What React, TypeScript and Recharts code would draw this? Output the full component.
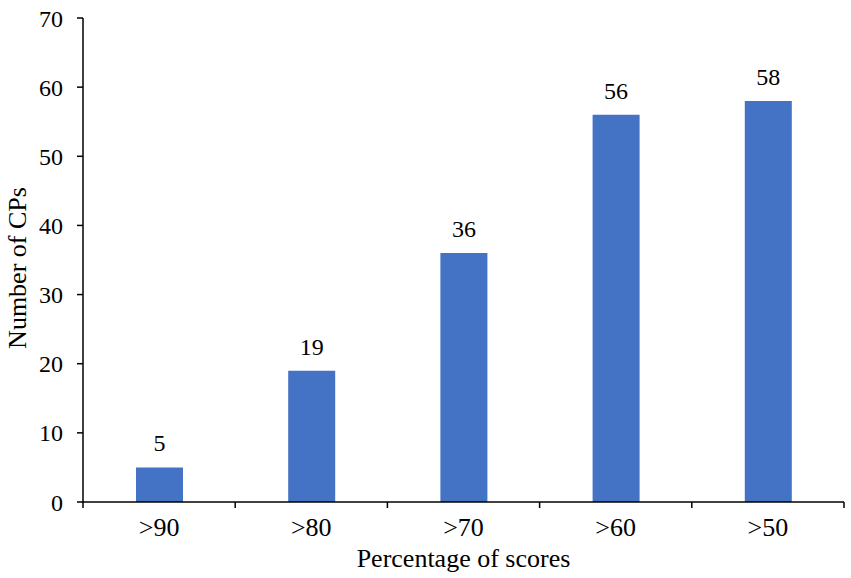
import { BarChart, Bar, XAxis, YAxis, LabelList } from "recharts";

const categories = [">90", ">80", ">70", ">60", ">50"];
const counts = [5, 19, 36, 56, 58];
const yTicks = [0, 10, 20, 30, 40, 50, 60, 70];

const data = categories.map((c, i) => ({ cat: c, count: counts[i] }));

const font = "'Liberation Serif', 'Times New Roman', serif";
const txt = { fontFamily: font, fontSize: 24, fill: "#000" };
const axisTitle = { fontFamily: font, fontSize: 26, fill: "#000" };
const line = { stroke: "#000", strokeWidth: 1.5 };
const TICK_SIZE = 6;
const TICK_MARGIN = 10;

// category label + tick marks on the band edges (Excel style)
function XTick({ x, y, payload, index }: any) {
  const half = payload.offset || 0;
  const y0 = y - TICK_SIZE - TICK_MARGIN;
  const isLast = index === categories.length - 1;
  return (
    <g>
      <line x1={x - half} x2={x - half} y1={y0} y2={y0 + TICK_SIZE} {...line} />
      {isLast && <line x1={x + half} x2={x + half} y1={y0} y2={y0 + TICK_SIZE} {...line} />}
      <text x={x} y={y} dy="0.71em" textAnchor="middle" style={{ ...txt, fontSize: 26 }}>{payload.value}</text>
    </g>
  );
}

function YTitle({ viewBox }: any) {
  const x = viewBox.x + 17;
  const y = viewBox.y + viewBox.height / 2 + 8;
  return (
    <text x={x} y={y} transform={`rotate(-90, ${x}, ${y})`} textAnchor="middle"
      dominantBaseline="central" style={axisTitle}>
      Number of CPs
    </text>
  );
}

export default function App() {
  return (
    <div style={{ position: "absolute", left: 0, top: 0, background: "#fff" }}>
      <BarChart width={851} height={578} data={data} margin={{ top: 18, right: 7, bottom: 0, left: 0 }}>
        <XAxis dataKey="cat" height={76} tickLine={false} tickSize={TICK_SIZE} tickMargin={TICK_MARGIN}
          tick={<XTick />} interval={0} axisLine={line}
          label={{ value: "Percentage of scores", position: "insideBottom", offset: 11, style: axisTitle }} />
        <YAxis domain={[0, 70]} ticks={yTicks} width={83} tickSize={6} tickMargin={14} tick={txt}
          axisLine={line} tickLine={line} label={<YTitle />} />
        <Bar dataKey="count" fill="#4472C4" barSize={47} isAnimationActive={false}>
          <LabelList dataKey="count" position="top" offset={16} style={txt} />
        </Bar>
      </BarChart>
    </div>
  );
}
